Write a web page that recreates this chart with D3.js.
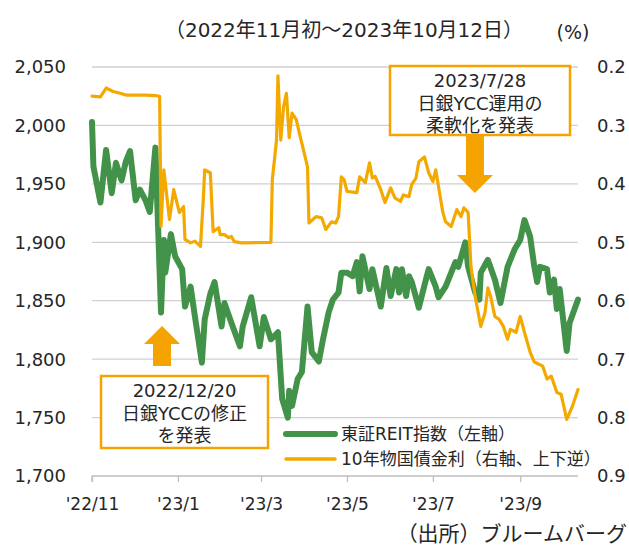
<!DOCTYPE html>
<html>
<head>
<meta charset="utf-8">
<script src="https://cdn.jsdelivr.net/npm/d3@7"></script>
<style>
  body { margin: 0; background: #fff; }
  text { font-family: "DejaVu Sans", "Noto Sans CJK JP", sans-serif; fill: #262626; }
</style>
</head>
<body>
<div id="root"></div>
<script>
// 東証REIT指数 (left axis)
const reit = [
  ["2022-11-01",2003],["2022-11-02",1965],["2022-11-07",1934],["2022-11-11",1979],["2022-11-15",1942],
  ["2022-11-18",1968],["2022-11-22",1953],["2022-11-25",1969],["2022-11-28",1978],["2022-12-02",1936],
  ["2022-12-05",1945],["2022-12-09",1936],["2022-12-12",1926],["2022-12-16",1981],["2022-12-20",1840],
  ["2022-12-22",1902],["2022-12-23",1874],["2022-12-27",1907],["2022-12-30",1888],["2023-01-04",1877],
  ["2023-01-06",1845],["2023-01-10",1862],["2023-01-13",1837],["2023-01-18",1797],["2023-01-20",1834],
  ["2023-01-24",1856],["2023-01-27",1866],["2023-02-01",1828],["2023-02-03",1848],["2023-02-08",1831],
  ["2023-02-14",1811],["2023-02-16",1828],["2023-02-22",1853],["2023-02-28",1811],["2023-03-03",1836],
  ["2023-03-08",1817],["2023-03-13",1823],["2023-03-16",1766],["2023-03-20",1750],["2023-03-21",1773],
  ["2023-03-23",1760],["2023-03-27",1783],["2023-03-30",1789],["2023-04-03",1845],["2023-04-06",1806],
  ["2023-04-11",1798],["2023-04-14",1817],["2023-04-18",1840],["2023-04-21",1851],["2023-04-25",1857],
  ["2023-04-27",1874],["2023-05-01",1874],["2023-05-05",1871],["2023-05-08",1883],["2023-05-10",1858],
  ["2023-05-12",1888],["2023-05-17",1860],["2023-05-19",1877],["2023-05-25",1845],["2023-05-29",1878],
  ["2023-06-01",1854],["2023-06-05",1877],["2023-06-07",1857],["2023-06-09",1877],["2023-06-12",1854],
  ["2023-06-14",1871],["2023-06-16",1866],["2023-06-21",1844],["2023-06-26",1868],["2023-06-28",1877],
  ["2023-07-03",1862],["2023-07-05",1853],["2023-07-10",1862],["2023-07-14",1874],["2023-07-17",1883],
  ["2023-07-19",1879],["2023-07-24",1900],["2023-07-26",1879],["2023-07-31",1857],["2023-08-03",1851],
  ["2023-08-04",1874],["2023-08-09",1885],["2023-08-14",1868],["2023-08-18",1848],["2023-08-23",1879],
  ["2023-08-28",1894],["2023-09-01",1902],["2023-09-04",1919],["2023-09-08",1905],["2023-09-11",1879],
  ["2023-09-13",1866],["2023-09-15",1879],["2023-09-20",1877],["2023-09-22",1857],["2023-09-25",1868],
  ["2023-09-27",1843],["2023-09-29",1860],["2023-10-04",1807],["2023-10-06",1831],["2023-10-12",1851]
]

// 10年物国債金利 (right axis, inverted)
const jgb = [
  ["2022-11-01",0.250],["2022-11-07",0.251],["2022-11-11",0.236],["2022-11-16",0.242],["2022-11-21",0.245],
  ["2022-11-25",0.248],["2022-12-02",0.248],["2022-12-09",0.248],["2022-12-16",0.249],["2022-12-19",0.250],
  ["2022-12-20",0.473],["2022-12-22",0.376],["2022-12-26",0.461],["2022-12-29",0.410],["2023-01-02",0.449],
  ["2023-01-05",0.439],["2023-01-06",0.495],["2023-01-10",0.501],["2023-01-13",0.498],["2023-01-17",0.507],
  ["2023-01-19",0.427],["2023-01-20",0.376],["2023-01-24",0.381],["2023-01-26",0.482],["2023-01-30",0.475],
  ["2023-01-31",0.487],["2023-02-03",0.487],["2023-02-06",0.492],["2023-02-08",0.490],["2023-02-10",0.499],
  ["2023-02-15",0.501],["2023-03-08",0.500],["2023-03-09",0.393],["2023-03-12",0.325],["2023-03-13",0.215],
  ["2023-03-15",0.325],["2023-03-17",0.268],["2023-03-19",0.245],["2023-03-21",0.321],["2023-03-23",0.279],
  ["2023-03-26",0.290],["2023-03-28",0.311],["2023-04-03",0.371],["2023-04-04",0.467],["2023-04-09",0.456],
  ["2023-04-13",0.458],["2023-04-16",0.478],["2023-04-20",0.465],["2023-04-23",0.467],["2023-04-25",0.456],
  ["2023-04-27",0.388],["2023-04-29",0.393],["2023-05-01",0.413],["2023-05-08",0.415],["2023-05-10",0.388],
  ["2023-05-14",0.398],["2023-05-17",0.364],["2023-05-19",0.390],["2023-05-21",0.387],["2023-05-25",0.410],
  ["2023-05-28",0.432],["2023-06-01",0.407],["2023-06-04",0.424],["2023-06-08",0.430],["2023-06-10",0.419],
  ["2023-06-14",0.422],["2023-06-16",0.401],["2023-06-19",0.390],["2023-06-21",0.362],["2023-06-25",0.354],
  ["2023-06-28",0.381],["2023-07-01",0.396],["2023-07-03",0.376],["2023-07-08",0.448],["2023-07-10",0.465],
  ["2023-07-14",0.473],["2023-07-18",0.444],["2023-07-21",0.456],["2023-07-23",0.441],["2023-07-26",0.449],
  ["2023-07-28",0.541],["2023-07-31",0.593],["2023-08-04",0.644],["2023-08-07",0.620],["2023-08-09",0.578],
  ["2023-08-11",0.593],["2023-08-14",0.627],["2023-08-17",0.632],["2023-08-20",0.644],["2023-08-23",0.666],
  ["2023-08-25",0.649],["2023-08-29",0.654],["2023-09-01",0.627],["2023-09-04",0.654],["2023-09-08",0.688],
  ["2023-09-11",0.705],["2023-09-17",0.712],["2023-09-20",0.734],["2023-09-23",0.729],["2023-09-27",0.757],
  ["2023-09-30",0.760],["2023-10-04",0.803],["2023-10-08",0.781],["2023-10-12",0.752]
]

const leftTicks = [1700, 1750, 1800, 1850, 1900, 1950, 2000, 2050]
const rightTicks = [0.2, 0.3, 0.4, 0.5, 0.6, 0.7, 0.8, 0.9]
const monthTicks = ["2022-11-01", "2023-01-01", "2023-03-01", "2023-05-01", "2023-07-01", "2023-09-01"]
const legendLabels = ["東証REIT指数（左軸）", "10年物国債金利（右軸、上下逆）"]
const notes = [
  {date: "2022-12-20", lines: ["2022/12/20", "日銀YCCの修正", "を発表"]},
  {date: "2023-07-28", lines: ["2023/7/28", "日銀YCC運用の", "柔軟化を発表"]}
]

const W = 629, H = 545
const plot = {left: 92, right: 578, top: 67, bottom: 476}
const green = "#43924a", yellow = "#f4a900", orange = "#f5a300"
const fs = "18px"
const parse = d3.timeParse("%Y-%m-%d")

const svg = d3.select("#root").append("svg").attr("width", W).attr("height", H)

const x = d3.scaleTime()
    .domain([parse("2022-11-01"), parse("2023-10-12")])
    .range([plot.left, plot.right])
const yL = d3.scaleLinear().domain([1700, 2050]).range([plot.bottom, plot.top])
const yR = d3.scaleLinear().domain([0.2, 0.9]).range([plot.top, plot.bottom])

//gridlines
svg.append("g").selectAll("line")
    .data(leftTicks.slice(1))
    .join("line")
    .attr("x1", plot.left).attr("x2", plot.right)
    .attr("y1", d => yL(d)).attr("y2", d => yL(d))
    .attr("stroke", "#d0d0d0").attr("stroke-width", 1.3)

//left axis labels
const fmt = d3.format(",")
svg.append("g").selectAll("text")
    .data(leftTicks)
    .join("text")
    .attr("x", 66).attr("y", d => yL(d))
    .attr("dy", "0.36em")
    .attr("text-anchor", "end")
    .style("font-size", fs)
    .text(d => fmt(d))

//right axis labels
svg.append("g").selectAll("text")
    .data(rightTicks)
    .join("text")
    .attr("x", 597).attr("y", d => yR(d))
    .attr("dy", "0.36em")
    .style("font-size", fs)
    .text(d => d.toFixed(1))

//bottom axis
const xAxis = d3.axisBottom(x)
    .tickValues(monthTicks.map(parse))
    .tickSize(6)
    .tickPadding(16)
    .tickFormat(d => "'" + d3.timeFormat("%y")(d) + "/" + (d.getMonth() + 1))
const gx = svg.append("g").attr("transform", `translate(0,${plot.bottom})`).call(xAxis)
gx.select(".domain").attr("stroke", "#bfbfbf").attr("stroke-width", 1.3)
    .attr("d", `M${plot.left},6V0H${plot.right}`)
gx.selectAll(".tick line").attr("stroke", "#bfbfbf").attr("stroke-width", 1.3)
gx.selectAll(".tick text")
    .style("font-family", '"DejaVu Sans", sans-serif')
    .style("font-size", "17px").attr("fill", "#262626")

//lines
const reitLine = d3.line().x(d => x(parse(d[0]))).y(d => yL(d[1]))
const jgbLine = d3.line().x(d => x(parse(d[0]))).y(d => yR(d[1]))
svg.append("path").datum(reit)
    .attr("d", reitLine)
    .attr("fill", "none").attr("stroke", green).attr("stroke-width", 6)
    .attr("stroke-linejoin", "round").attr("stroke-linecap", "round")
svg.append("path").datum(jgb)
    .attr("d", jgbLine)
    .attr("fill", "none").attr("stroke", yellow).attr("stroke-width", 3.2)
    .attr("stroke-linejoin", "round").attr("stroke-linecap", "round")

//annotation boxes and arrows
function block_arrow(cx, y0, y1) {
    //y0 = tail, y1 = tip
    const dir = y1 > y0 ? 1 : -1
    const headLen = 18, shaft = 9, head = 18
    const yb = y1 - dir * headLen
    return `M${cx - shaft},${y0}L${cx + shaft},${y0}L${cx + shaft},${yb}L${cx + head},${yb}` +
        `L${cx},${y1}L${cx - head},${yb}L${cx - shaft},${yb}Z`
}
const boxes = [
    {x0: 101, y0: 376, w: 167, h: 72, arrow: [366, 326]},
    {x0: 390, y0: 66, w: 180, h: 69, arrow: [135, 193]}
]
notes.forEach((n, i) => {
    const b = boxes[i]
    const cx = b.x0 + b.w / 2
    const ax = i == 0 ? x(parse(n.date)) + 1 : x(parse(n.date)) + 4
    svg.append("path").attr("d", block_arrow(ax, b.arrow[0], b.arrow[1])).attr("fill", orange)
    svg.append("rect")
        .attr("x", b.x0).attr("y", b.y0).attr("width", b.w).attr("height", b.h)
        .attr("fill", "#fff").attr("stroke", orange).attr("stroke-width", 2.5)
    n.lines.forEach((t, j) => {
        svg.append("text")
            .attr("x", cx).attr("y", b.y0 + 15 + j * 22.5)
            .attr("dy", "0.36em")
            .attr("text-anchor", "middle")
            .style("font-size", fs)
            .text(t)
    })
})

//legend
const legend = svg.append("g")
legendLabels.forEach((t, i) => {
    const ly = 434 + i * 25
    legend.append("line")
        .attr("x1", 286).attr("x2", 335).attr("y1", ly).attr("y2", ly)
        .attr("stroke", i == 0 ? green : yellow)
        .attr("stroke-width", i == 0 ? 6 : 3.5)
        .attr("stroke-linecap", "round")
    legend.append("text")
        .attr("x", 341).attr("y", ly).attr("dy", "0.36em")
        .style("font-size", "17px")
        .text(t)
})

//titles
svg.append("text").attr("x", 344).attr("y", 30).attr("dy", "0.36em")
    .attr("text-anchor", "middle").style("font-size", "20px")
    .text("（2022年11月初～2023年10月12日）")
svg.append("text").attr("x", 573).attr("y", 32).attr("dy", "0.36em")
    .attr("text-anchor", "middle").style("font-size", "19px")
    .text("(%)")
svg.append("text").attr("x", 627).attr("y", 533).attr("dy", "0.36em")
    .attr("text-anchor", "end").style("font-size", "21px")
    .text("（出所）ブルームバーグ")
</script>
</body>
</html>
